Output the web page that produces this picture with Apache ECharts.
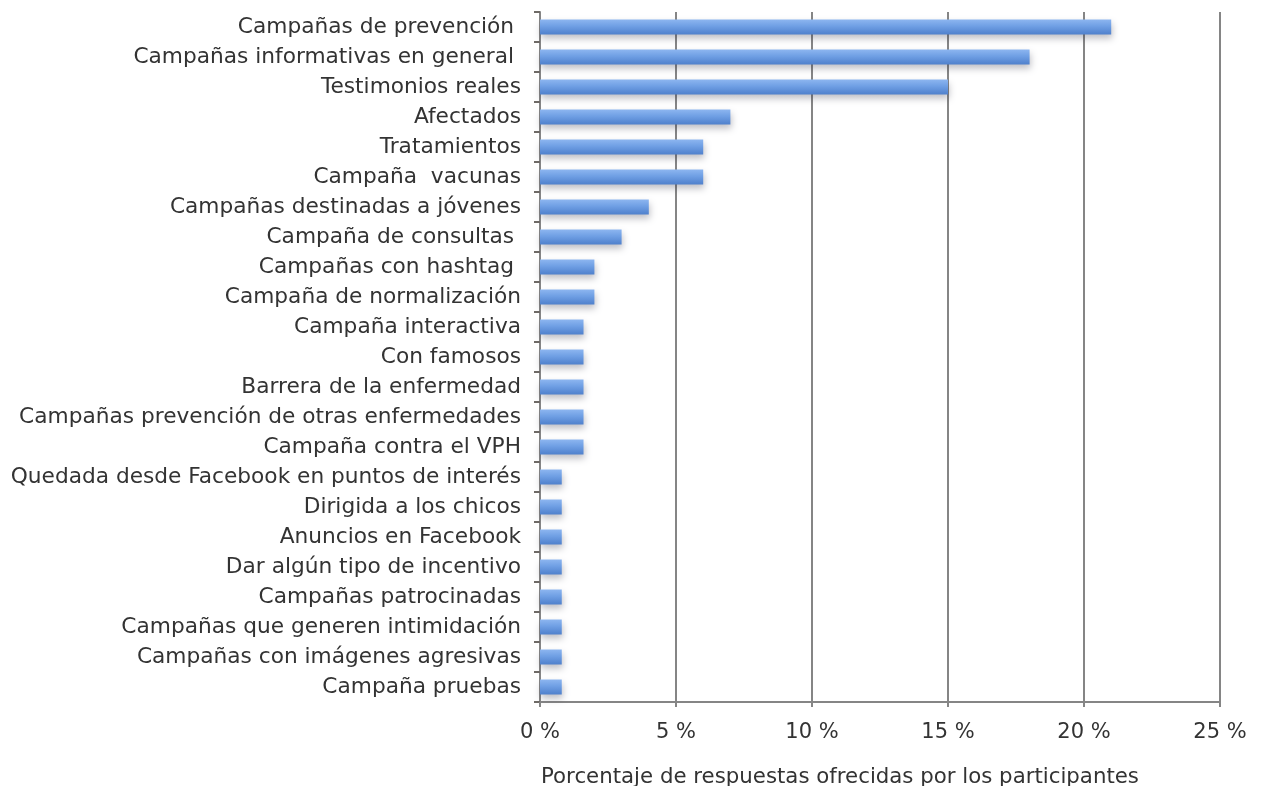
<!DOCTYPE html>
<html>
<head>
<meta charset="utf-8">
<script src="https://cdn.jsdelivr.net/npm/echarts@6/dist/echarts.min.js"></script>
<style>
  html, body { margin: 0; padding: 0; background: #ffffff; }
  #chart { width: 1265px; height: 786px; }
</style>
</head>
<body>
<div id="chart"></div>
<script>
// Campaign types, listed top to bottom
const categories = [
  'Campañas de prevención ',
  'Campañas informativas en general ',
  'Testimonios reales',
  'Afectados',
  'Tratamientos',
  'Campaña  vacunas',
  'Campañas destinadas a jóvenes',
  'Campaña de consultas ',
  'Campañas con hashtag ',
  'Campaña de normalización',
  'Campaña interactiva',
  'Con famosos',
  'Barrera de la enfermedad',
  'Campañas prevención de otras enfermedades',
  'Campaña contra el VPH',
  'Quedada desde Facebook en puntos de interés',
  'Dirigida a los chicos',
  'Anuncios en Facebook',
  'Dar algún tipo de incentivo',
  'Campañas patrocinadas',
  'Campañas que generen intimidación',
  'Campañas con imágenes agresivas',
  'Campaña pruebas'
];

// Share of responses (%)
const shares = [21, 18, 15, 7, 6, 6, 4, 3, 2, 2, 1.6, 1.6, 1.6, 1.6, 1.6, 0.8, 0.8, 0.8, 0.8, 0.8, 0.8, 0.8, 0.8];

// Percentage axis ticks
const tickValues = [0, 5, 10, 15, 20, 25];
const axisTitle = 'Porcentaje de respuestas ofrecidas por los participantes';

const textColor = '#333333';
const lineColor = '#858585';
const fontFamily = '"DejaVu Sans", Verdana, sans-serif';

const chart = echarts.init(document.getElementById('chart'), null, { renderer: 'canvas' });

chart.setOption({
  backgroundColor: '#ffffff',
  animation: false,
  title: {
    text: axisTitle,
    left: 536,
    top: 762,
    textStyle: { fontFamily, fontSize: 21.3, fontWeight: 'normal', color: textColor }
  },
  grid: { left: 540, right: 45, top: 12, bottom: 84, containLabel: false },
  xAxis: {
    type: 'value',
    min: tickValues[0],
    max: tickValues[tickValues.length - 1],
    interval: 5,
    axisLine: { show: true, lineStyle: { color: lineColor, width: 2 } },
    axisTick: { show: true, length: 5, lineStyle: { color: lineColor, width: 2 } },
    splitLine: { show: true, lineStyle: { color: lineColor, width: 2 } },
    axisLabel: {
      margin: 20,
      fontFamily, fontSize: 21, color: textColor,
      formatter: v => v + ' %'
    }
  },
  yAxis: {
    type: 'category',
    data: categories,
    inverse: true,
    axisLine: { show: true, lineStyle: { color: lineColor, width: 2 } },
    axisTick: { show: true, length: 6, alignWithLabel: false, lineStyle: { color: '#6e6a66', width: 2 } },
    axisLabel: {
      margin: 19,
      fontFamily, fontSize: 21.7, color: textColor
    }
  },
  series: [{
    type: 'bar',
    data: shares,
    barWidth: 15,
    itemStyle: {
      color: new echarts.graphic.LinearGradient(0, 0, 0, 1, [
        { offset: 0, color: '#8db6f0' },
        { offset: 0.45, color: '#6f9fe4' },
        { offset: 1, color: '#4f80cc' }
      ]),
      shadowColor: 'rgba(40, 40, 60, 0.3)',
      shadowBlur: 7,
      shadowOffsetY: 4,
      shadowOffsetX: 1
    }
  }]
});
</script>
</body>
</html>
